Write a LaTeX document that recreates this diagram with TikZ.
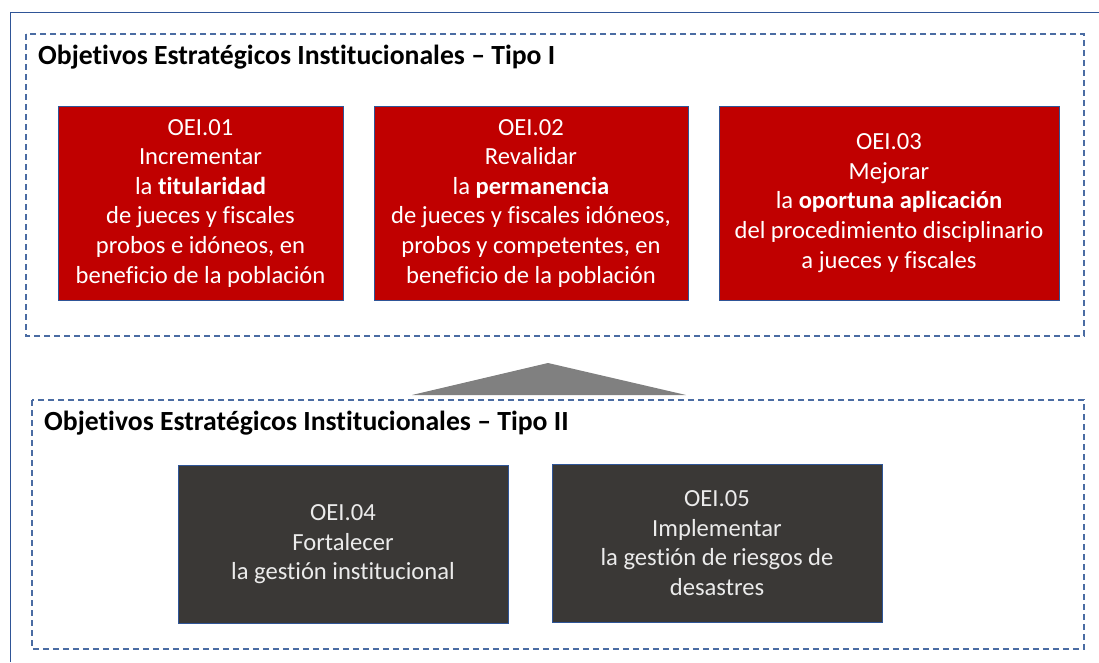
\documentclass[tikz,border=0pt]{standalone}
\usepackage{fontspec}
\setmainfont{Carlito}[Ligatures=NoCommon]
\definecolor{oeired}{HTML}{C00000}
\definecolor{oeidark}{HTML}{3A3836}
\definecolor{edgeblue}{HTML}{2F5597}
\definecolor{dashblue}{HTML}{4A6CA3}
\begin{document}
\begin{tikzpicture}[x=1pt,y=-1pt,
   redbox/.style={fill=oeired,draw=edgeblue,line width=0.8pt,text=white,align=center,
      font=\fontsize{24.6}{29.6}\selectfont,inner sep=0pt,minimum height=194pt},
   darkbox/.style={fill=oeidark,draw=edgeblue,line width=0.8pt,text=white!92!black,align=center,
      font=\fontsize{24.6}{29.6}\selectfont,inner sep=0pt,minimum width=330pt,minimum height=158pt},
   groupbox/.style={draw=dashblue,line width=1.3pt,dash pattern=on 6pt off 4pt},
   grouptitle/.style={anchor=west,font=\fontsize{27.7}{32}\selectfont\bfseries,inner sep=0pt}]
   \useasboundingbox (0,0) rectangle (1099,662);
   \fill[white] (0,0) rectangle (1099,662);
   \draw[edgeblue,line width=1pt] (10,662) -- (10,12.5) -- (1099,12.5);

   % Tipo I
   \draw[groupbox] (26,34) rectangle (1084,336);
   \node[grouptitle] (titleI) at (38,57) {Objetivos Estratégicos Institucionales – Tipo I};

   \node[redbox,minimum width=285pt] (oei01) at (200.5,203)
      {OEI.01\\Incrementar\\la \textbf{titularidad}\\de jueces y fiscales\\probos e idóneos, en\\beneficio de la población};
   \node[redbox,minimum width=314pt] (oei02) at (531,203)
      {OEI.02\\Revalidar\\la \textbf{permanencia}\\de jueces y fiscales idóneos,\\probos y competentes, en\\beneficio de la población};
   \node[redbox,minimum width=340pt] (oei03) at (889,203)
      {OEI.03\\Mejorar\\la \textbf{oportuna aplicación}\\del procedimiento disciplinario\\a jueces y fiscales};

   % triangle between the groups
   \fill[black!50] (412,395) -- (548,363) -- (686,395) -- cycle;

   % Tipo II
   \draw[groupbox] (32,400) rectangle (1084,649);
   \node[grouptitle] (titleII) at (44,423) {Objetivos Estratégicos Institucionales – Tipo II};

   \node[darkbox] (oei04) at (343,544.5)
      {OEI.04\\Fortalecer\\la gestión institucional};
   \node[darkbox] (oei05) at (717,543)
      {OEI.05\\Implementar\\la gestión de riesgos de\\desastres};
\end{tikzpicture}
\end{document}
